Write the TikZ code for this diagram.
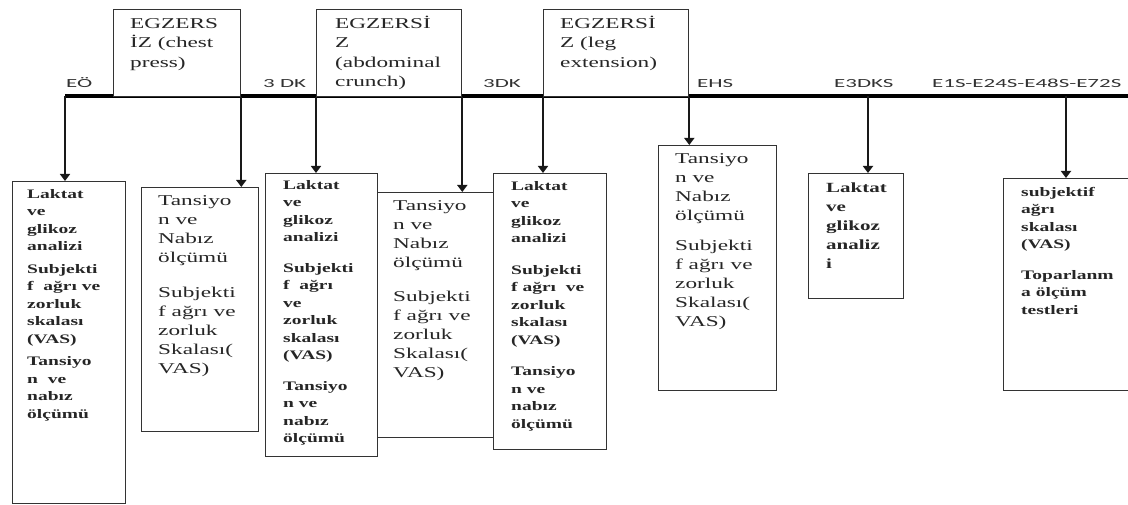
\documentclass[tikz,border=0pt]{standalone}
\usepackage{fontspec}
\usetikzlibrary{arrows.meta}
\newfontfamily\srf{Liberation Serif}[FakeStretch=1.55]
\newfontfamily\srfb{Liberation Serif}[FakeStretch=1.5]
\newfontfamily\lblf{Carlito}[FakeStretch=1.85]
\newcommand\mystrutA{\rule{0pt}{13pt}}
\tikzset{
  box/.style={draw=black!80, line width=1.3pt, fill=white, inner sep=0pt, anchor=north west},
  mainline/.style={line width=4.2pt, black},
  arr/.style={line width=1.8pt, black!90, -{Triangle[width=10pt,length=7pt]}},
  lbl/.style={font=\lblf\fontsize{12.4}{14}\selectfont, text=black!80, inner sep=0pt, anchor=base west},
  toptxt/.style={font=\srf\fontsize{15}{19.5}\selectfont, text=black!85, align=left, inner sep=0pt, anchor=north west},
  regtxt/.style={font=\srf\fontsize{15}{19}\selectfont, text=black!85, align=left, inner sep=0pt, anchor=north west},
  bldtxt/.style={font=\srfb\bfseries\fontsize{13}{17.5}\selectfont, text=black!85, align=left, inner sep=0pt, anchor=north west},
  bldtxtL/.style={font=\srfb\bfseries\fontsize{14}{19}\selectfont, text=black!85, align=left, inner sep=0pt, anchor=north west}
}
\begin{document}
\begin{tikzpicture}[x=1pt,y=-1pt]
\useasboundingbox (0,0) rectangle (1128,505);
% main timeline
\coordinate (L0) at (65,96);
\coordinate (L1) at (1140,96);
\coordinate (a7) at (868,96);
\coordinate (a8) at (1066,96);
\draw[mainline] (L0) -- (L1);
% top boxes
\node[box, minimum width=127pt, minimum height=87pt] (t1) at (113,9) {};
\node[box, minimum width=145pt, minimum height=87pt] (t2) at (316,9) {};
\node[box, minimum width=145pt, minimum height=87pt] (t3) at (543,9) {};
\node[toptxt] (t1t) at (130,15) {\mystrutA EGZERS\\İZ (chest\\press)};
\node[toptxt] (t2t) at (335,15) {\mystrutA EGZERSİ\\Z\\(abdominal\\crunch)};
\node[toptxt] (t3t) at (560,15) {\mystrutA EGZERSİ\\Z (leg\\extension)};
% labels
\node[lbl] (l1) at (66,88) {EÖ};
\node[lbl] (l2) at (263,88) {3 DK};
\node[lbl] (l3) at (483,88) {3DK};
\node[lbl] (l4) at (697,88) {EHS};
\node[lbl] (l5) at (834,88) {E3DKS};
\node[lbl] (l6) at (932,88) {E1S-E24S-E48S-E72S};
% bottom boxes
\node[box, minimum width=113pt, minimum height=322pt] (b1) at (12,181) {};
\node[box, minimum width=117pt, minimum height=244pt] (b2) at (141,187) {};
\node[box, minimum width=112pt, minimum height=283pt] (b3) at (265,173) {};
\node[box, minimum width=116pt, minimum height=245pt] (b4) at (377,192) {};
\node[box, minimum width=113pt, minimum height=276pt] (b5) at (493,173) {};
\node[box, minimum width=118pt, minimum height=245pt] (b6) at (658,145) {};
\node[box, minimum width=95pt, minimum height=125pt] (b7) at (808,173) {};
\node[box, minimum width=135pt, minimum height=212pt] (b8) at (1003,178) {};
% box texts
\node[bldtxt] (b1t) at (27,185) {\mystrutA Laktat\\ve\\glikoz\\analizi\\[5pt]Subjekti\\f\ \ ağrı ve\\zorluk\\skalası\\(VAS)\\[5pt]Tansiyo\\n\ \ ve\\nabız\\ölçümü};
\node[regtxt] (b2t) at (158,192) {\mystrutA Tansiyo\\n ve\\Nabız\\ölçümü\\[16pt]Subjekti\\f ağrı ve\\zorluk\\Skalası(\\VAS)};
\node[bldtxt] (b3t) at (283,176) {\mystrutA Laktat\\ve\\glikoz\\analizi\\[13pt]Subjekti\\f\ \ ağrı\\ve\\zorluk\\skalası\\(VAS)\\[13pt]Tansiyo\\n ve\\nabız\\ölçümü};
\node[regtxt] (b4t) at (393,197) {\mystrutA Tansiyo\\n ve\\Nabız\\ölçümü\\[15pt]Subjekti\\f ağrı ve\\zorluk\\Skalası(\\VAS)};
\node[bldtxt] (b5t) at (511,177) {\mystrutA Laktat\\ve\\glikoz\\analizi\\[14pt]Subjekti\\f ağrı\ \ ve\\zorluk\\skalası\\(VAS)\\[14pt]Tansiyo\\n ve\\nabız\\ölçümü};
\node[regtxt] (b6t) at (675,150) {\mystrutA Tansiyo\\n ve\\Nabız\\ölçümü\\[11pt]Subjekti\\f ağrı ve\\zorluk\\Skalası(\\VAS)};
\node[bldtxtL] (b7t) at (826,179) {\mystrutA Laktat\\ve\\glikoz\\analiz\\i};
\node[bldtxt] (b8t) at (1021,183) {\mystrutA subjektif\\ağrı\\skalası\\(VAS)\\[13pt]Toparlanm\\a ölçüm\\testleri};
% arrows
\draw[arr] (L0) -- (L0 |- b1.north);
\draw[arr] (t1.south east) -- (t1.south east |- b2.north);
\draw[arr] (t2.south west) -- (t2.south west |- b3.north);
\draw[arr] (t2.south east) -- (t2.south east |- b4.north);
\draw[arr] (t3.south west) -- (t3.south west |- b5.north);
\draw[arr] (t3.south east) -- (t3.south east |- b6.north);
\draw[arr] (a7) -- (a7 |- b7.north);
\draw[arr] (a8) -- (a8 |- b8.north);
\end{tikzpicture}
\end{document}
